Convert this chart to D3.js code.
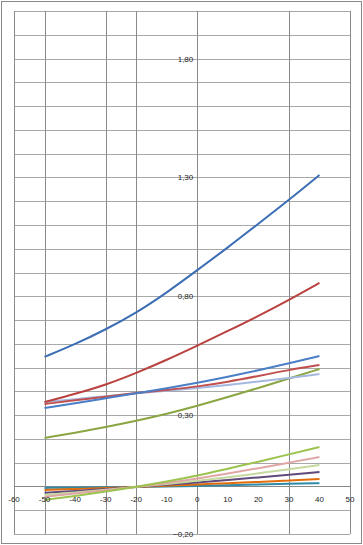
<!DOCTYPE html>
<html>
<head>
<meta charset="utf-8">
<script src="https://cdn.jsdelivr.net/npm/d3@7"></script>
<style>
  body { margin: 0; background: #fff; }
  text { font-family: "Liberation Sans", Arial, sans-serif; font-size: 8px; fill: #222; }
</style>
</head>
<body>
<div id="chart"></div>
<script>
// temperatures (x) for each series point
const temps = [-50, -40, -30, -20, -10, 0, 10, 20, 30, 40]

// x ticks and where vertical gridlines are drawn
const xTicks = [-60, -50, -40, -30, -20, -10, 0, 10, 20, 30, 40, 50]
const xGrid = [-60, -50, -30, -20, 0, 30, 50]
const yLabels = [-0.2, 0.3, 0.8, 1.3, 1.8]

// series values
const s1 = [0.545, 0.598, 0.660, 0.730, 0.815, 0.910, 1.005, 1.105, 1.205, 1.310]
const s2 = [0.355, 0.389, 0.427, 0.477, 0.532, 0.592, 0.654, 0.717, 0.784, 0.856]
const s3 = [0.330, 0.350, 0.371, 0.392, 0.413, 0.436, 0.461, 0.489, 0.518, 0.549]
const s4 = [0.347, 0.362, 0.378, 0.393, 0.406, 0.420, 0.440, 0.465, 0.490, 0.511]
const s5 = [0.355, 0.367, 0.380, 0.392, 0.403, 0.414, 0.427, 0.441, 0.456, 0.473]
const s6 = [0.204, 0.226, 0.250, 0.276, 0.305, 0.339, 0.376, 0.414, 0.454, 0.494]
const s7 = [-0.057, -0.040, -0.022, -0.002, 0.021, 0.045, 0.075, 0.104, 0.135, 0.166]
const s8 = [-0.044, -0.030, -0.016, -0.002, 0.014, 0.033, 0.054, 0.077, 0.100, 0.124]
const s9 = [-0.036, -0.025, -0.014, -0.002, 0.010, 0.024, 0.039, 0.055, 0.072, 0.090]
const s10 = [-0.027, -0.019, -0.011, -0.002, 0.007, 0.017, 0.027, 0.038, 0.049, 0.061]
const s11 = [-0.015, -0.011, -0.006, -0.002, 0.003, 0.008, 0.014, 0.019, 0.025, 0.031]
const s12 = [-0.006, -0.005, -0.004, -0.002, 0.000, 0.002, 0.005, 0.008, 0.011, 0.014]

const seriesList = [s12, s11, s10, s9, s8, s7, s6, s5, s4, s3, s2, s1]
const colors = ["#2e8aa8", "#e36c0a", "#604a7b", "#c6d9a0", "#e0a7a6", "#9bc34d",
                "#89a642", "#a4b8e0", "#c0504d", "#4a7ec6", "#b9413e", "#3c6eb4"]

function setupChart() {
    const width = 363
    const height = 545

    let svg = d3.select("#chart")
        .append("svg")
        .attr("width", width)
        .attr("height", height)

    // outer border
    svg.append("rect")
        .attr("x", 1.5).attr("y", 1.5)
        .attr("width", width - 3).attr("height", height - 3)
        .attr("fill", "none").attr("stroke", "#8a8a8a")

    let x = d3.scaleLinear().domain([-60, 50]).range([14, 350])
    let y = d3.scaleLinear().domain([-0.2, 2.0]).range([534, 11])

    // horizontal gridlines every 0.1
    const hLines = d3.range(-2, 21).map(d => d / 10)
    svg.selectAll('hGrid')
        .data(hLines)
        .enter()
        .append('line')
        .attr('x1', x(-60)).attr('x2', x(50))
        .attr('y1', d => Math.round(y(d)) + 0.5)
        .attr('y2', d => Math.round(y(d)) + 0.5)
        .attr('stroke', d => Math.abs(d) < 1e-9 ? "#888" : "#a8a8a8")

    // vertical gridlines
    svg.selectAll('vGrid')
        .data(xGrid)
        .enter()
        .append('line')
        .attr('x1', d => Math.round(x(d)) + 0.5)
        .attr('x2', d => Math.round(x(d)) + 0.5)
        .attr('y1', y(2.0)).attr('y2', y(-0.2))
        .attr('stroke', "#8a8a8a")

    // series lines, smoothed
    let line = d3.line()
        .x((d, i) => x(temps[i]))
        .y(d => y(d))
        .curve(d3.curveBasis)

    svg.selectAll('series')
        .data(seriesList)
        .enter()
        .append('path')
        .attr('d', line)
        .attr('fill', 'none')
        .attr('stroke', (d, i) => colors[i])
        .attr('stroke-width', 2)

    // x tick labels
    svg.selectAll('xLabels')
        .data(xTicks)
        .enter()
        .append('text')
        .attr('x', d => x(d))
        .attr('y', y(0) + 16)
        .attr('text-anchor', 'middle')
        .text(d => d)

    // y tick labels with comma decimals
    const fmt = d3.format(".2f")
    svg.selectAll('yLabels')
        .data(yLabels)
        .enter()
        .append('text')
        .attr('x', x(0) - 4)
        .attr('y', d => y(d) + 3)
        .attr('text-anchor', 'end')
        .text(d => fmt(d).replace('.', ','))
}

setupChart()
</script>
</body>
</html>
